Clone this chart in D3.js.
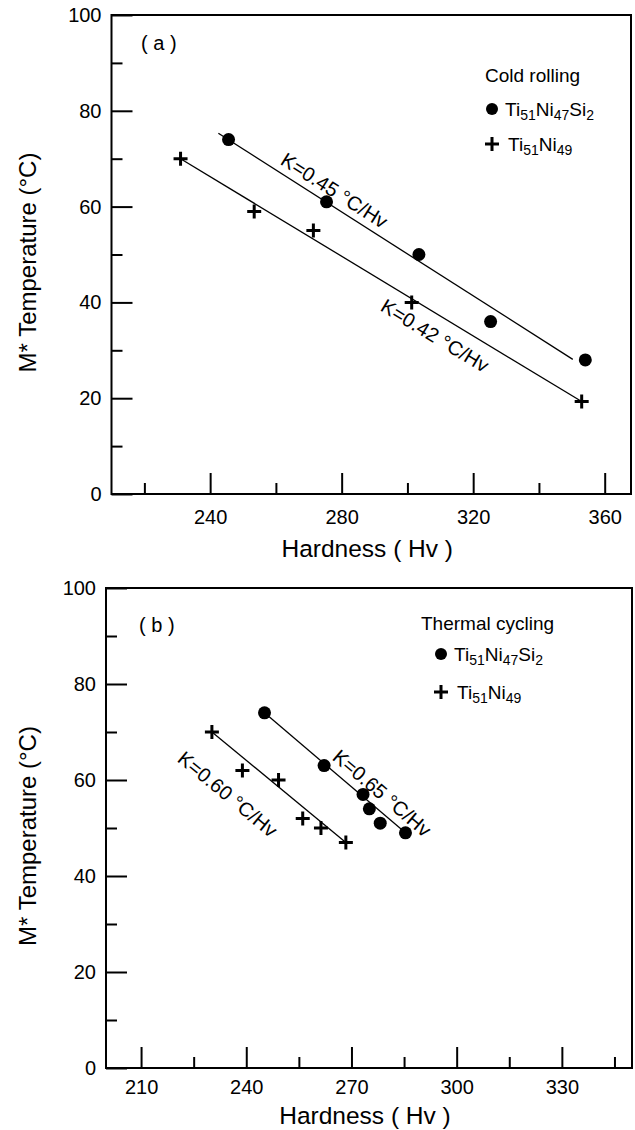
<!DOCTYPE html>
<html>
<head>
<meta charset="utf-8">
<script src="https://cdn.jsdelivr.net/npm/d3@7"></script>
<style>
body { margin: 0; background: #fff; }
svg { font-family: "Liberation Sans", Arial, sans-serif; }
</style>
</head>
<body>
<svg width="635" height="1130"></svg>
<script>
// (a) cold rolling
let coldSiHv = [245.6, 275.4, 303.5, 325.3, 354.1];
let coldSiT = [74, 61, 50, 36, 28];
let coldNiHv = [231, 253.4, 271.4, 301.3, 353];
let coldNiT = [70, 59, 55, 40, 19.3];
let coldSiFit = [[242.5, 75.3], [350.3, 28.1]];
let coldNiFit = [[231, 70], [353, 19.3]];

// (b) thermal cycling
let thermSiHv = [245.2, 262.2, 273.3, 275.1, 278.2, 285.4];
let thermSiT = [74, 63, 57, 54, 51, 49];
let thermNiHv = [230.2, 238.9, 249.2, 256.1, 261.3, 268.4];
let thermNiT = [70, 62, 60, 52, 50, 47];
let thermSiFit = [[245.2, 74], [285.4, 49]];
let thermNiFit = [[230.2, 70], [268.4, 47]];

let yTicks = [0, 20, 40, 60, 80, 100];
let yMinor = [10, 30, 50, 70, 90];
let coldXTicks = [240, 280, 320, 360];
let coldXMinor = [220, 260, 300, 340];
let thermXTicks = [210, 240, 270, 300, 330];
let thermXMinor = [225, 255, 285, 315, 345];

let siName = [["Ti", 0], ["51", 1], ["Ni", 0], ["47", 1], ["Si", 0], ["2", 1]];
let niName = [["Ti", 0], ["51", 1], ["Ni", 0], ["49", 1]];

let svg = d3.select("svg");

function formula(t, parts) {
  parts.forEach(p => {
    t.append("tspan")
      .attr("font-size", p[1] ? 14 : 19)
      .attr("baseline-shift", p[1] ? "-4" : "0")
      .text(p[0]);
  });
}

function plus(g, px, py) {
  g.append("path")
    .attr("d", `M${px-7},${py}H${px+7}M${px},${py-7}V${py+7}`)
    .attr("stroke", "#000").attr("stroke-width", 3);
}

function panel(o) {
  let x = d3.scaleLinear().domain(o.xDomain).range([o.left, o.right]);
  let y = d3.scaleLinear().domain([0, 100]).range([o.bottom, o.top]);
  let g = svg.append("g");

  g.append("rect")
    .attr("x", o.left).attr("y", o.top)
    .attr("width", o.right - o.left).attr("height", o.bottom - o.top)
    .attr("fill", "none").attr("stroke", "#000").attr("stroke-width", 2);

  let xa = g.append("g").attr("transform", `translate(0,${o.bottom})`)
    .call(d3.axisBottom(x).tickValues(o.xTicks).tickSize(-21).tickPadding(o.xPad).tickFormat(d3.format("d")));
  let xm = g.append("g").attr("transform", `translate(0,${o.bottom})`)
    .call(d3.axisBottom(x).tickValues(o.xMinor).tickSize(-11).tickFormat(""));
  let ya = g.append("g").attr("transform", `translate(${o.left},0)`)
    .call(d3.axisLeft(y).tickValues(yTicks).tickSize(-21).tickPadding(10));
  let ym = g.append("g").attr("transform", `translate(${o.left},0)`)
    .call(d3.axisLeft(y).tickValues(yMinor).tickSize(-11).tickFormat(""));
  [xa, xm, ya, ym].forEach(a => {
    a.select(".domain").remove();
    a.selectAll("line").attr("stroke-width", 2);
    a.selectAll("text").attr("font-size", 20).attr("font-family", "Liberation Sans, Arial, sans-serif");
  });

  // fit lines
  let line = d3.line().x(d => x(d[0])).y(d => y(d[1]));
  [o.siFit, o.niFit].forEach(f => {
    g.append("path").attr("d", line(f)).attr("fill", "none")
      .attr("stroke", "#000").attr("stroke-width", 1.3);
  });

  // points
  g.selectAll("circle.pt").data(d3.zip(o.siHv, o.siT)).enter()
    .append("circle").attr("class", "pt")
    .attr("cx", d => x(d[0])).attr("cy", d => y(d[1])).attr("r", 6.5);
  d3.zip(o.niHv, o.niT).forEach(d => plus(g, x(d[0]), y(d[1])));

  // slope labels, rotated along their lines
  o.labels.forEach(l => {
    let f = l.fit;
    let ang = Math.atan2(y(f[1][1]) - y(f[0][1]), x(f[1][0]) - x(f[0][0])) * 180 / Math.PI;
    g.append("text")
      .attr("transform", `translate(${x(l.at[0])},${y(l.at[1])}) rotate(${ang})`)
      .attr("font-size", 20)
      .text(l.text);
  });

  g.append("text").attr("x", o.tagX).attr("y", o.tagY)
    .attr("font-size", 20).text(o.tag);

  // legend
  g.append("text").attr("x", o.legX).attr("y", o.legY)
    .attr("font-size", 19).text(o.legTitle);
  g.append("circle").attr("cx", o.legX + o.mkDx).attr("cy", o.legY + o.row1).attr("r", 6);
  formula(g.append("text").attr("x", o.legX + o.mkDx + 13).attr("y", o.legY + o.row1 + 7), siName);
  plus(g, o.legX + o.mkDx, o.legY + o.row2);
  formula(g.append("text").attr("x", o.legX + o.mkDx + 16).attr("y", o.legY + o.row2 + 7), niName);

  // axis titles
  g.append("text")
    .attr("transform", `translate(36,${(o.top + o.bottom) / 2 + 8}) rotate(-90)`)
    .attr("text-anchor", "middle").attr("font-size", 24)
    .text("M* Temperature (°C)");
  g.append("text")
    .attr("x", (o.left + o.right) / 2 - 4).attr("y", o.titleY)
    .attr("text-anchor", "middle").attr("font-size", 24.5)
    .text("Hardness ( Hv )");
}

panel({
  xDomain: [210, 368], left: 111.5, right: 631, top: 15, bottom: 494,
  xTicks: coldXTicks, xMinor: coldXMinor, xPad: 16,
  siHv: coldSiHv, siT: coldSiT, niHv: coldNiHv, niT: coldNiT,
  siFit: coldSiFit, niFit: coldNiFit,
  labels: [
    { text: "K=0.45 °C/Hv", at: [261, 69], fit: coldSiFit },
    { text: "K=0.42 °C/Hv", at: [291.4, 38.4], fit: coldNiFit }
  ],
  tag: "( a )", tagX: 141, tagY: 50,
  legTitle: "Cold rolling", legX: 485, legY: 82, mkDx: 7, row1: 27, row2: 62,
  titleY: 557
});

panel({
  xDomain: [200, 350], left: 106, right: 632, top: 588, bottom: 1068,
  xTicks: thermXTicks, xMinor: thermXMinor, xPad: 12,
  siHv: thermSiHv, siT: thermSiT, niHv: thermNiHv, niT: thermNiT,
  siFit: thermSiFit, niFit: thermNiFit,
  labels: [
    { text: "K=0.65 °C/Hv", at: [264.2, 64.4], fit: thermSiFit },
    { text: "K=0.60 °C/Hv", at: [220, 64], fit: thermNiFit }
  ],
  tag: "( b )", tagX: 139, tagY: 632,
  legTitle: "Thermal cycling", legX: 421, legY: 630, mkDx: 20, row1: 24, row2: 62,
  titleY: 1124
});
</script>
</body>
</html>
